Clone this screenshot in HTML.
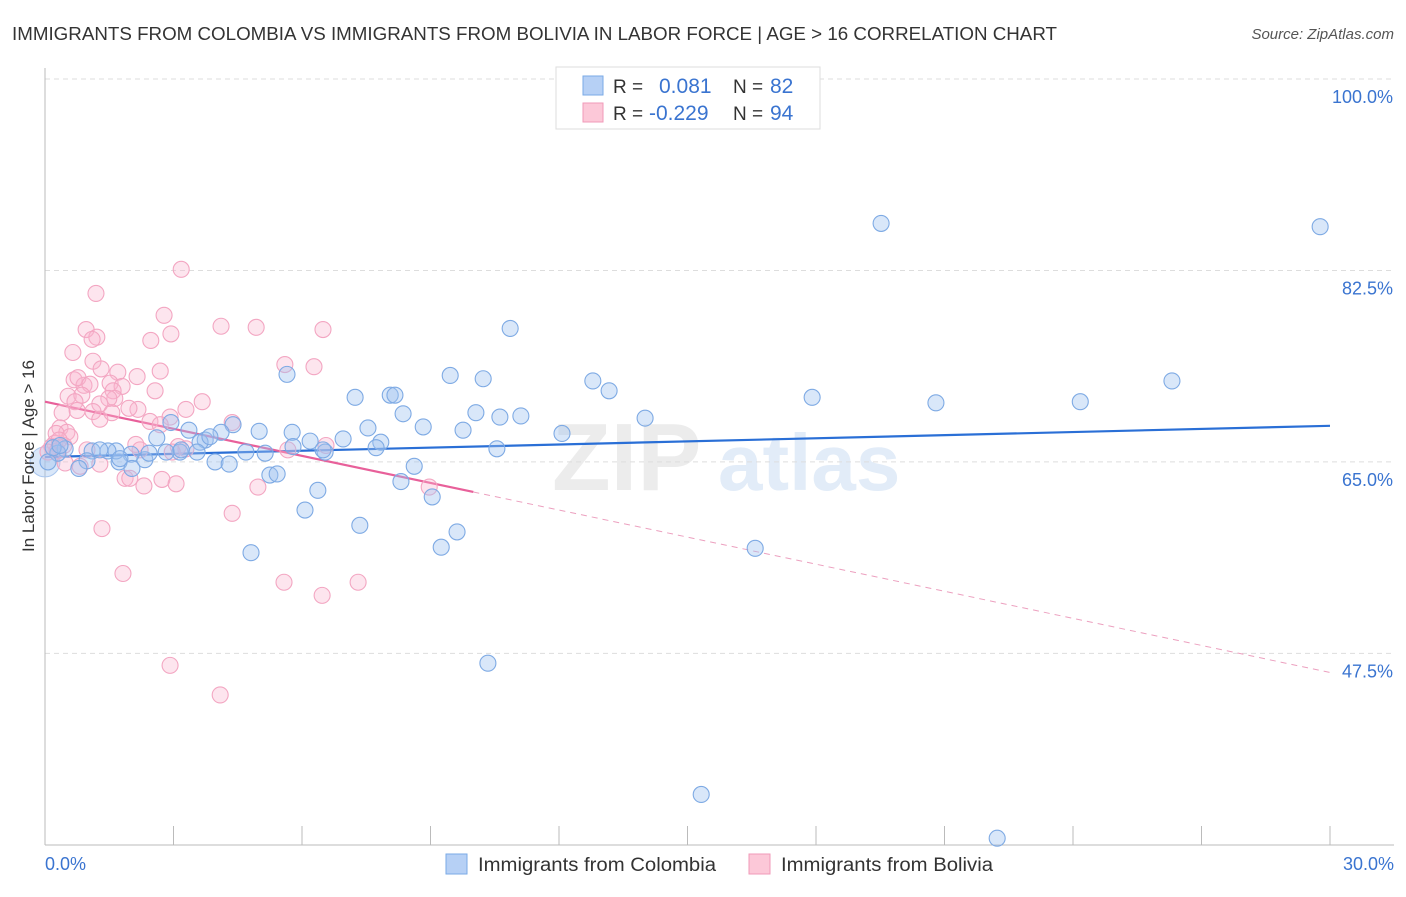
<!DOCTYPE html>
<html><head><meta charset="utf-8"><style>
body{margin:0;background:#fff;font-family:"Liberation Sans",sans-serif;}
svg text{font-family:"Liberation Sans",sans-serif;}
</style></head><body>
<svg id="chart" width="1406" height="892" xmlns="http://www.w3.org/2000/svg">
<text x="12" y="40" font-size="18" fill="#333" textLength="1045" lengthAdjust="spacingAndGlyphs">IMMIGRANTS FROM COLOMBIA VS IMMIGRANTS FROM BOLIVIA IN LABOR FORCE | AGE &gt; 16 CORRELATION CHART</text>
<text x="1394" y="39" font-size="15" fill="#555" font-style="italic" text-anchor="end">Source: ZipAtlas.com</text>
<g><text x="552" y="490" font-size="96" fill="#ececec" font-family="Liberation Serif" font-weight="bold">ZIP</text><text x="718" y="490" font-size="80" fill="#e2ecf8" font-weight="bold">atlas</text></g>
<g id="grid"></g><g id="axes"></g><g id="trend"></g><g id="pts"></g>
<text transform="translate(34,456) rotate(-90)" font-size="17" fill="#333" text-anchor="middle">In Labor Force | Age &gt; 16</text>
<g>
<rect x="556" y="67" width="264" height="62" fill="#fff" stroke="#ddd"/>
<rect x="583" y="76" width="20" height="19" fill="#b6d0f5" stroke="#7aaae6"/>
<rect x="583" y="103" width="20" height="19" fill="#fcc8d8" stroke="#f09ab8"/>
<text x="613" y="93" font-size="19" fill="#333">R =</text><text x="659" y="93" font-size="21" fill="#3a74d0">0.081</text>
<text x="733" y="93" font-size="19" fill="#333">N =</text><text x="770" y="93" font-size="21" fill="#3a74d0">82</text>
<text x="613" y="120" font-size="19" fill="#333">R =</text><text x="649" y="120" font-size="21" fill="#3a74d0">-0.229</text>
<text x="733" y="120" font-size="19" fill="#333">N =</text><text x="770" y="120" font-size="21" fill="#3a74d0">94</text>
</g>
<g>
<rect x="446" y="854" width="21" height="20" fill="#b6d0f5" stroke="#7aaae6"/>
<text x="478" y="871" font-size="19" fill="#333" textLength="238" lengthAdjust="spacingAndGlyphs">Immigrants from Colombia</text>
<rect x="749" y="854" width="21" height="20" fill="#fcc8d8" stroke="#f09ab8"/>
<text x="781" y="871" font-size="19" fill="#333" textLength="212" lengthAdjust="spacingAndGlyphs">Immigrants from Bolivia</text>
</g>
</svg>
<script>
const xTicks=[0,3,6,9,12,15,18,21,24,27,30];
const yTicks=[100,82.5,65,47.5];
const yTickLabels=["100.0%","82.5%","65.0%","47.5%"];
const xEndLabels=["0.0%","30.0%"];
const blueX=[19.52,29.77,10.86,9.46,10.23,12.79,13.17,8.06,8.17,7.24,17.91,20.8,24.17,26.31,5.65,8.36,10.06,10.62,11.11,14.01,8.83,9.76,7.54,12.07,4.39,5.0,5.77,6.96,7.84,6.19,10.55,7.73,6.54,6.49,5.14,4.69,5.79,3.74,2.61,2.94,3.36,4.11,3.62,3.85,3.15,3.55,2.83,2.33,2.43,2.01,1.73,1.66,1.47,1.1,0.98,0.79,0.47,0.3,0.07,0.19,2.03,3.97,4.3,5.25,5.42,8.62,8.31,6.37,9.04,6.07,7.35,9.62,9.25,4.81,16.58,10.34,15.32,22.23,3.18,1.28,1.75,0.35];
const blueY=[86.8,86.5,77.2,72.9,72.6,72.4,71.5,71.1,71.1,70.9,70.9,70.4,70.5,72.4,73.0,69.4,69.5,69.1,69.2,69.0,68.2,67.9,68.1,67.6,68.4,67.8,67.7,67.1,66.8,66.9,66.2,66.3,65.9,66.1,65.8,65.9,66.4,67.0,67.2,68.6,67.9,67.7,66.8,67.3,65.9,65.9,65.9,65.2,65.8,65.7,65.0,66.0,66.0,66.0,65.1,64.4,66.2,65.8,65.0,66.3,64.4,65.0,64.8,63.8,63.9,64.6,63.2,62.4,61.8,60.6,59.2,58.6,57.2,56.7,57.1,46.6,34.6,30.6,66.1,66.1,65.3,66.5];
const pinkX=[3.18,1.19,2.78,4.11,4.93,6.49,0.96,2.94,1.21,2.47,1.1,0.65,1.12,5.6,6.28,1.31,1.7,2.69,0.68,0.91,0.77,1.52,2.15,1.8,1.59,1.05,0.54,0.86,0.7,1.63,1.49,1.28,2.57,3.67,2.17,1.96,3.29,0.4,0.75,1.12,1.28,2.92,2.45,1.56,4.37,0.35,0.51,0.26,0.58,0.23,0.16,0.28,0.44,0.07,2.12,3.11,3.29,2.97,5.67,6.56,1.28,1.87,2.73,3.06,2.31,4.97,8.97,4.37,1.33,1.82,5.58,7.31,6.47,2.92,4.09,0.47,1.98,0.82,0.33,2.22,0.98,2.69];
const pinkY=[82.6,80.4,78.4,77.4,77.3,77.1,77.1,76.7,76.4,76.1,76.2,75.0,74.2,73.9,73.7,73.5,73.2,73.3,72.5,72.0,72.7,72.2,72.8,71.9,71.5,72.1,71.0,71.1,70.5,70.8,70.8,70.3,71.5,70.5,69.8,69.9,69.8,69.5,69.7,69.6,68.9,69.1,68.7,69.5,68.6,68.1,67.7,67.6,67.3,66.7,66.4,66.0,66.5,65.9,66.6,66.4,66.2,65.9,66.1,66.5,64.8,63.5,63.4,63.0,62.8,62.7,62.7,60.3,58.9,54.8,54.0,54.0,52.8,46.4,43.7,64.9,63.5,64.6,67.0,66.1,66.1,68.4];
const blueTrend=[65.45,68.3];
const pinkTrend=[70.5,45.75];
const pinkSolidEnd=[10];

const NS="http://www.w3.org/2000/svg";
const X=v=>45+v*1285/30;
const Y=v=>79+(100-v)*10.94;
function mk(tag,parent,attrs){const e=document.createElementNS(NS,tag);for(const k in attrs)e.setAttribute(k,attrs[k]);parent.appendChild(e);return e;}
const grid=document.getElementById('grid'),axes=document.getElementById('axes'),trend=document.getElementById('trend'),pts=document.getElementById('pts');
yTicks.forEach((t,i)=>{
  const l=mk('line',grid,{x1:45,x2:1394,y1:Y(t),y2:Y(t),stroke:'#ddd','stroke-dasharray':'5,4'});
  
  
  const tx=mk('text',axes,{x:1393,y:Y(t)+24,'font-size':18,fill:'#3a74d0','text-anchor':'end'});
  tx.textContent=yTickLabels[i];
  
  
});
const ax=mk('line',axes,{x1:45,x2:45,y1:68,y2:845,stroke:'#bbb'});


const bx=mk('line',axes,{x1:45,x2:1394,y1:845,y2:845,stroke:'#bbb'});


xTicks.forEach(t=>{
  const l=mk('line',axes,{x1:X(t),x2:X(t),y1:826,y2:845,stroke:'#bbb'});
  
  
});
[[0,'start',45],[30,'end',1394]].forEach((d,i)=>{
  const tx=mk('text',axes,{x:d[2],y:870,'font-size':18,fill:'#3a74d0','text-anchor':d[1]});
  tx.textContent=xEndLabels[i];
  
  
});
const big=mk('circle',pts,{cx:X(0),cy:Y(65),r:15,fill:'rgba(160,196,240,0.4)',stroke:'#a9c6ee'});


pinkX.forEach((x,i)=>{
  const c=mk('circle',pts,{cx:X(x),cy:Y(pinkY[i]),r:8,fill:'rgba(248,180,205,0.35)',stroke:'#f3a6c2','stroke-width':1.1});
  
  
});
blueX.forEach((x,i)=>{
  const c=mk('circle',pts,{cx:X(x),cy:Y(blueY[i]),r:8,fill:'rgba(160,196,240,0.4)',stroke:'#7eaae4','stroke-width':1.1});
  
  
});
const bl=mk('line',trend,{x1:X(0),y1:Y(blueTrend[0]),x2:X(30),y2:Y(blueTrend[1]),stroke:'#2a6fd6','stroke-width':2.2});


const pAt=x=>pinkTrend[0]+(pinkTrend[1]-pinkTrend[0])*x/30;
const pl=mk('line',trend,{x1:X(0),y1:Y(pAt(0)),x2:X(pinkSolidEnd[0]),y2:Y(pAt(pinkSolidEnd[0])),stroke:'#e8609a','stroke-width':2.2});


const pd=mk('line',trend,{x1:X(pinkSolidEnd[0]),y1:Y(pAt(pinkSolidEnd[0])),x2:X(30),y2:Y(pAt(30)),stroke:'#eca0bf','stroke-width':1,'stroke-dasharray':'6,5'});


</script>
</body></html>
